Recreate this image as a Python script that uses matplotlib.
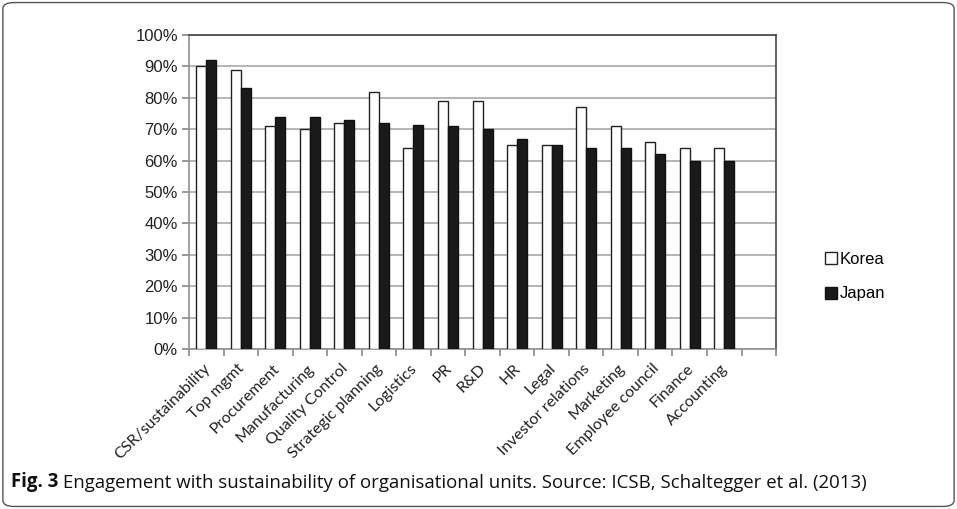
import numpy as np
import matplotlib.pyplot as plt
from matplotlib.patches import FancyBboxPatch
from matplotlib.lines import Line2D

# data (percent)
units = ["CSR/sustainability", "Top mgmt", "Procurement", "Manufacturing",
         "Quality Control", "Strategic planning", "Logistics", "PR", "R&D",
         "HR", "Legal", "Investor relations", "Marketing", "Employee council",
         "Finance", "Accounting"]
korea = [90, 89, 71, 70, 72, 82, 64, 79, 79, 65, 65, 77, 71, 66, 64, 64]
japan = [92, 83, 74, 74, 73, 72, 71.3, 71, 70, 67, 65, 64, 64, 62, 60, 60]
yticks = list(range(0, 101, 10))

fig = plt.figure(figsize=(9.57, 5.09), dpi=100)
ax = fig.add_axes([0.1975, 0.3143, 0.6134, 0.6169])

n_slots = len(units) + 1   # excel leaves one empty slot at the end
x = np.arange(len(units))
w = 0.29
ax.bar(x - w / 2, korea, w, color="white", edgecolor="#222222", lw=1.0, zorder=3)
ax.bar(x + w / 2, japan, w, color="#1a1a1a", edgecolor="#111111", lw=1.0, zorder=3)

ax.set_xlim(-0.5, n_slots - 0.5)
ax.set_ylim(0, 100)
ax.set_yticks(yticks)
ax.set_yticklabels(["%d%%" % v for v in yticks], fontsize=12, family="Liberation Sans", color="#222222")
ax.yaxis.grid(True, color="#a8a8a8", lw=1.2, zorder=0)
ax.tick_params(axis="y", length=5, color="#888888", width=1.2, pad=3)

# category boundary ticks, labels at centres
ax.set_xticks(np.arange(n_slots + 1) - 0.5)
ax.set_xticklabels([])
ax.tick_params(axis="x", length=5, color="#888888", width=1.2)
for i, name in enumerate(units):
    ax.text(i - 0.1, -4.0, name, rotation=45, ha="right", va="top",
            rotation_mode="anchor", fontsize=11.5, family="Lato", color="#222222")

for s in ["left", "bottom"]:
    ax.spines[s].set_color("#909090")
    ax.spines[s].set_linewidth(1.2)
for s in ["top", "right"]:
    ax.spines[s].set_color("#444444")
    ax.spines[s].set_linewidth(1.2)

handles = [Line2D([], [], marker="s", ls="", markersize=8, markerfacecolor="white",
                  markeredgecolor="#222222", markeredgewidth=1.0),
           Line2D([], [], marker="s", ls="", markersize=8, markerfacecolor="#1a1a1a",
                  markeredgecolor="#111111")]
fig.legend(handles, ["Korea", "Japan"], loc="center left", bbox_to_anchor=(0.848, 0.456),
           frameon=False, prop={"family": "Liberation Sans", "size": 12},
           handlelength=0.5, handletextpad=0.3, labelspacing=1.15)

# rounded frame and caption
frame = FancyBboxPatch((0.003, 0.005), 0.994, 0.99, boxstyle="round,pad=0,rounding_size=0.012",
                       transform=fig.transFigure, fill=False, ec="#555555", lw=1.0)
fig.patches.append(frame)
t = fig.text(0.011, 0.044, "Fig. 3", fontsize=13.4, fontweight="bold", family="Open Sans",
             color="#111111", va="baseline")
ax.annotate(" Engagement with sustainability of organisational units. Source: ICSB, Schaltegger et al. (2013)",
            xy=(1, 0), xycoords=t, va="bottom", ha="left", fontsize=13.4, family="Open Sans",
            color="#111111", annotation_clip=False)

fig.savefig("out.png", dpi=100)
